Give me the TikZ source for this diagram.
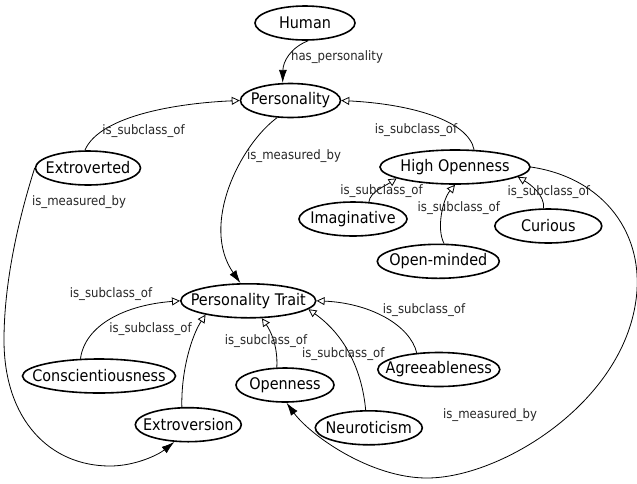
\documentclass[tikz,border=0pt]{standalone}
\usepackage{fontspec}
\setmainfont{DejaVu Sans}[FakeStretch=0.9]
\usepackage{tikz}
\usetikzlibrary{shapes.geometric}
\usetikzlibrary{arrows.meta}
\tikzset{
	cls/.style={draw, ellipse, line width=1.6pt, inner sep=0pt, minimum height=34pt, font=\fontsize{16pt}{19pt}\selectfont},
	rel/.style={line width=0.8pt},
	subof/.style={rel, -{Triangle[open, length=8pt, width=8pt, line width=0.8pt]}},
	meas/.style={rel, -{Latex[length=13pt, width=8pt]}},
	lbl/.style={inner sep=0pt, font=\fontsize{13pt}{15pt}\selectfont, text=black!85}
}
\newcommand{\cl}[1]{\makebox[0pt]{#1}}
\begin{document}
\begin{tikzpicture}[x=1pt, y=-1pt]
		\useasboundingbox (0, 0) rectangle (637, 483);
		% Classes:
		\node[cls, minimum width=100pt](human) at (305, 23){\cl{Human}};
		\node[cls, minimum width=100pt](pers) at (290.5, 100.5){\cl{Personality}};
		\node[cls, minimum width=105pt](ext) at (88, 168){\cl{Extroverted}};
		\node[cls, minimum width=150pt](ho) at (455, 167){\cl{High Openness}};
		\node[cls, minimum width=108pt](imag) at (353, 219){\cl{Imaginative}};
		\node[cls, minimum width=107pt](cur) at (548.3, 226){\cl{Curious}};
		\node[cls, minimum width=122pt](om) at (438.3, 261.3){\cl{Open-minded}};
		\node[cls, minimum width=135pt](pt) at (248.3, 300.8){\cl{Personality Trait}};
		\node[cls, minimum width=153pt](consc) at (99, 376){\cl{Conscientiousness}};
		\node[cls, minimum width=106pt](extn) at (188.3, 424.7){\cl{Extroversion}};
		\node[cls, minimum width=98pt](open) at (285, 385){\cl{Openness}};
		\node[cls, minimum width=122pt](agr) at (438.8, 369.5){\cl{Agreeableness}};
		\node[cls, minimum width=107pt](neur) at (368.8, 427.8){\cl{Neuroticism}};
		% Relations:
		\draw[meas] (human.-80) .. controls (290, 48) and (283, 62) .. (pers.114);
		\draw[subof] (ext.100) .. controls (100, 115) and (180, 103) .. (pers.west);
		\draw[subof] (ho.42) .. controls (468, 120) and (410, 104) .. (pers.east);
		\draw[meas] (pers.232) .. controls (240, 145) and (200, 225) .. (pt.114);
		\draw[meas] (ext.west) .. controls (15, 230) and (4, 290) .. (4, 340) .. controls (4, 420) and (50, 466) .. (110, 466) .. controls (135, 466) and (158, 455) .. (extn.231);
		\draw[subof] (imag.47) .. controls (370, 192) and (385, 186) .. (ho.191);
		\draw[subof] (om.72) .. controls (436, 228) and (443, 199) .. (ho.-90);
		\draw[subof] (cur.105) .. controls (545, 195) and (530, 184) .. (ho.-9);
		\draw[meas] (ho.east) .. controls (605, 178) and (645, 235) .. (636, 300) .. controls (622, 404) and (500, 478) .. (427, 478) .. controls (370, 478) and (310, 435) .. (open.-85);
		\draw[subof] (consc.137) .. controls (85, 325) and (125, 305) .. (pt.west);
		\draw[subof] (extn.110) .. controls (181, 370) and (192, 335) .. (pt.198);
		\draw[subof] (open.115) .. controls (278, 345) and (270, 330) .. (pt.-52);
		\draw[subof] (neur.100) .. controls (362, 370) and (345, 335) .. (pt.-8);
		\draw[subof] (agr.143) .. controls (410, 325) and (370, 303) .. (pt.east);
		% Labels:
		\node[lbl](l1) at (337, 57){has\_personality};
		\node[lbl](l2) at (143.5, 131){is\_subclass\_of};
		\node[lbl](l3) at (416, 130){is\_subclass\_of};
		\node[lbl](l4) at (294, 156){is\_measured\_by};
		\node[lbl](l5) at (79, 202){is\_measured\_by};
		\node[lbl](l6) at (381.5, 191){is\_subclass\_of};
		\node[lbl](l7) at (458.8, 208.3){is\_subclass\_of};
		\node[lbl](l8) at (548.7, 191.7){is\_subclass\_of};
		\node[lbl](l9) at (490, 415){is\_measured\_by};
		\node[lbl](l10) at (111, 294){is\_subclass\_of};
		\node[lbl](l11) at (150.5, 329){is\_subclass\_of};
		\node[lbl](l12) at (266, 340.7){is\_subclass\_of};
		\node[lbl](l13) at (343.3, 354){is\_subclass\_of};
		\node[lbl](l14) at (424, 310){is\_subclass\_of};
	\end{tikzpicture}
\end{document}
